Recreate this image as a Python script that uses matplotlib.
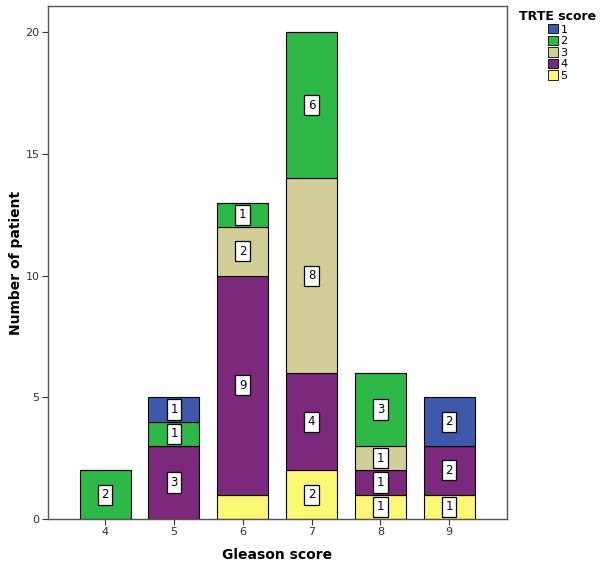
import numpy as np
import matplotlib
matplotlib.use('Agg')
import matplotlib.pyplot as plt
from matplotlib.patches import Patch

# Gleason score categories
gleason = ['4', '5', '6', '7', '8', '9']

# patient counts per TRTE score
trte1 = [0, 1, 0, 0, 0, 2]
trte2 = [2, 1, 1, 6, 3, 0]
trte3 = [0, 0, 2, 8, 1, 0]
trte4 = [0, 3, 9, 4, 1, 2]
trte5 = [0, 0, 1, 2, 1, 1]

trte_labels = ['1', '2', '3', '4', '5']
colors = ['#3E58AC', '#2EB848', '#D3CE97', '#7C287D', '#FBF873']

# segments that carry no value label in the original
hidden = [('6', '5')]

series = {'1': trte1, '2': trte2, '3': trte3, '4': trte4, '5': trte5}
color_map = dict(zip(trte_labels, colors))

fig = plt.figure(figsize=(6, 5.67), dpi=100)
ax = fig.add_axes([0.08, 0.0847, 0.765, 0.9043])

x = np.arange(len(gleason))
bottom = np.zeros(len(gleason))
# stacked from score 5 at the bottom up to score 1
for key in ['5', '4', '3', '2', '1']:
    vals = np.array(series[key], dtype=float)
    ax.bar(x, vals, width=0.74, bottom=bottom, color=color_map[key],
           edgecolor='black', linewidth=0.8, zorder=2)
    for i, v in enumerate(vals):
        if v > 0 and (gleason[i], key) not in hidden:
            ax.text(x[i], bottom[i] + v / 2, str(int(v)), ha='center', va='center',
                    fontsize=8.5, zorder=3,
                    bbox=dict(boxstyle='square,pad=0.3', facecolor='white',
                              edgecolor='black', linewidth=0.9))
    bottom += vals

ax.set_xlim(-0.83, 5.84)
ax.set_ylim(0, 21.07)
ax.set_xticks(x)
ax.set_xticklabels(gleason)
ax.set_yticks([0, 5, 10, 15, 20])
ax.tick_params(labelsize=8, colors='#333333', length=4, pad=2)
for s in ax.spines.values():
    s.set_color('#555555')
    s.set_linewidth(1.0)

ax.set_xlabel('Gleason score', fontsize=10, fontweight='bold', labelpad=8)
ax.set_ylabel('Number of patient', fontsize=10, fontweight='bold', labelpad=2)

handles = [Patch(facecolor=color_map[k], edgecolor='black', linewidth=0.6) for k in trte_labels]
leg = fig.legend(handles, trte_labels, title='TRTE score', loc='upper left',
                 bbox_to_anchor=(0.858, 0.99), frameon=False, fontsize=8,
                 handlelength=0.9, handleheight=0.9, handletextpad=0.2,
                 labelspacing=0.1, borderaxespad=0)
leg.get_title().set_fontweight('bold')
leg.get_title().set_fontsize(9)
leg._legend_box.align = 'center'

fig.savefig('out.png', dpi=100)
